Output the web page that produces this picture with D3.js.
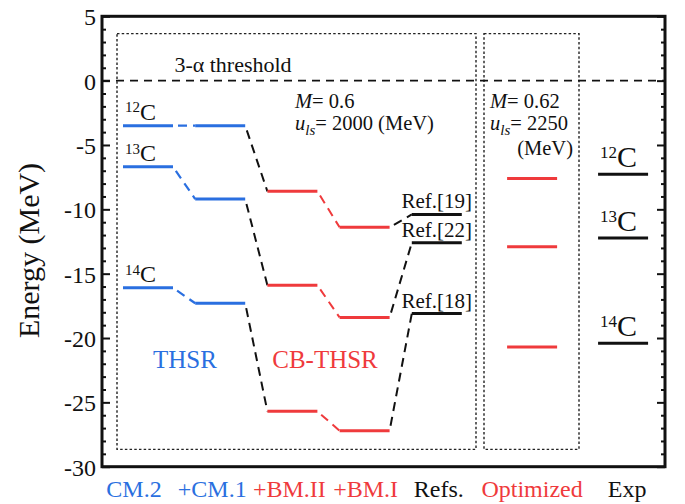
<!DOCTYPE html>
<html>
<head>
<meta charset="utf-8">
<script src="https://cdn.jsdelivr.net/npm/d3@7"></script>
<style>
  html, body { margin: 0; padding: 0; background: #fff; }
  svg { display: block; font-family: "Liberation Serif", "Times New Roman", serif; }
</style>
</head>
<body>
<svg id="chart" width="685" height="504"></svg>
<script>
// ---- data ----
const categories = ["CM.2", "+CM.1", "+BM.II", "+BM.I", "Refs.", "Optimized", "Exp"];
const isotopes = ["12", "13", "14"];           // mass numbers of 12C, 13C, 14C
const cm2 = [-3.5, -6.7, -16.1];
const cm1 = [-3.5, -9.2, -17.3];
const bm2 = [-8.6, -15.9, -25.7];
const bm1 = [-11.4, -18.4, -27.2];
const refs = [-10.4, -12.6, -18.1];
const refLabels = ["Ref.[19]", "Ref.[22]", "Ref.[18]"];
const optimized = [-7.6, -12.9, -20.7];
const exp = [-7.27, -12.22, -20.40];
const yTicks = [5, 0, -5, -10, -15, -20, -25, -30];

// ---- styles / layout ----
const BLUE = "#2a6fe0", RED = "#ef3a3c", INK = "#111";
const catColor = {"CM.2": BLUE, "+CM.1": BLUE, "+BM.II": RED, "+BM.I": RED, "Refs.": INK, "Optimized": RED, "Exp": INK};
const slot = d3.scaleOrdinal(categories, [0, 1, 2, 3, 4, 5.32, 6.58]);
const labelShift = {"CM.2": -14, "+CM.1": -8, "+BM.II": -3, "+BM.I": 1, "Refs.": 2, "Optimized": 0, "Exp": 4};
const halfW = 25;

const L = 102, R = 665, T = 16.3, B = 466.7;
const svg = d3.select("#chart");
const y = d3.scaleLinear().domain([-30, 5]).range([B, T]);
const x = d3.scaleLinear().domain([0, 1]).range([148, 220.2]);
const cx = c => x(slot(c));

// dotted group boxes
const boxes = [
  {x0: 117, x1: 476, y0: y(3.65), y1: y(-28.65)},
  {x0: 484, x1: 579, y0: y(3.65), y1: y(-28.65)}
];
svg.append("g").selectAll("rect").data(boxes).join("rect")
  .attr("x", d => d.x0).attr("y", d => d.y0)
  .attr("width", d => d.x1 - d.x0).attr("height", d => d.y1 - d.y0)
  .attr("fill", "none").attr("stroke", "#222").attr("stroke-width", 1.4)
  .attr("stroke-dasharray", "2.5,2.2");

// 3-alpha threshold
svg.append("line")
  .attr("x1", L).attr("x2", R).attr("y1", y(0)).attr("y2", y(0))
  .attr("stroke", INK).attr("stroke-width", 1.6).attr("stroke-dasharray", "8,6");
svg.append("text").attr("x", 233).attr("y", 72).attr("text-anchor", "middle")
  .attr("font-size", 22).attr("fill", INK).text("3-α threshold");

// connectors between successive calculations
const chain = [
  {from: "CM.2", to: "+CM.1", a: cm2, b: cm1, color: BLUE, w: 2.2},
  {from: "+CM.1", to: "+BM.II", a: cm1, b: bm2, color: INK, w: 2},
  {from: "+BM.II", to: "+BM.I", a: bm2, b: bm1, color: RED, w: 2},
  {from: "+BM.I", to: "Refs.", a: bm1, b: refs, color: INK, w: 2}
];
const conn = svg.append("g");
chain.forEach(c => {
  isotopes.forEach((iso, i) => {
    conn.append("line")
      .attr("x1", cx(c.from) + halfW).attr("y1", y(c.a[i]))
      .attr("x2", cx(c.to) - halfW).attr("y2", y(c.b[i]))
      .attr("stroke", c.color).attr("stroke-width", c.w)
      .attr("stroke-dasharray", "9,6").attr("stroke-dashoffset", -5);
  });
});

// energy levels
const levelSets = [
  {cat: "CM.2", v: cm2}, {cat: "+CM.1", v: cm1}, {cat: "+BM.II", v: bm2},
  {cat: "+BM.I", v: bm1}, {cat: "Refs.", v: refs}, {cat: "Optimized", v: optimized}, {cat: "Exp", v: exp}
];
const lv = svg.append("g");
levelSets.forEach(s => {
  lv.selectAll(null).data(s.v).join("line")
    .attr("x1", cx(s.cat) - halfW).attr("x2", cx(s.cat) + halfW)
    .attr("y1", d => y(d)).attr("y2", d => y(d))
    .attr("stroke", catColor[s.cat]).attr("stroke-width", 3);
});

// isotope labels
function isoLabel(g, xp, yp, mass, bigSize, supSize) {
  const t = g.append("text").attr("x", xp).attr("y", yp).attr("fill", INK);
  t.append("tspan").attr("font-size", supSize).attr("dy", -bigSize * 0.3).text(mass);
  t.append("tspan").attr("font-size", bigSize).attr("dy", bigSize * 0.3).text("C");
}
const lab = svg.append("g");
isotopes.forEach((m, i) => isoLabel(lab, 125, y(cm2[i]) - 6, m, 24, 15));
isotopes.forEach((m, i) => isoLabel(lab, 600, y(exp[i]) - 7, m, 30, 17));

// reference labels
svg.append("g").selectAll("text").data(refs).join("text")
  .attr("x", 472).attr("y", d => y(d) - 6).attr("text-anchor", "end")
  .attr("font-size", 21).attr("fill", INK).text((d, i) => refLabels[i]);

// parameter annotations
function params(xp, mVal, uVal, withUnit) {
  const g = svg.append("g").attr("font-size", 20.5).attr("fill", INK);
  const t1 = g.append("text").attr("x", xp).attr("y", 107.5);
  t1.append("tspan").attr("font-style", "italic").text("M");
  t1.append("tspan").text("= " + mVal);
  const t2 = g.append("text").attr("x", xp).attr("y", 130);
  t2.append("tspan").attr("font-style", "italic").text("u");
  t2.append("tspan").attr("font-style", "italic").attr("font-size", 15).attr("dy", 5).text("ls");
  t2.append("tspan").attr("dy", -5).text("= " + uVal + (withUnit ? " (MeV)" : ""));
  return g;
}
params(295, "0.6", "2000", true);
const g2 = params(490, "0.62", "2250", false);
g2.append("text").attr("x", 573).attr("y", 155).attr("text-anchor", "end").text("(MeV)");

// method labels
svg.append("text").attr("x", 185).attr("y", 368).attr("text-anchor", "middle")
  .attr("font-size", 25).attr("fill", BLUE).text("THSR");
svg.append("text").attr("x", 325).attr("y", 368).attr("text-anchor", "middle")
  .attr("font-size", 25).attr("fill", RED).text("CB-THSR");

// axes: frame, inward ticks
const minor = d3.range(-30, 6, 1).filter(v => v % 5 !== 0);
const leftAxis = d3.axisLeft(y).tickValues(yTicks).tickSize(-8).tickPadding(6).tickFormat(d3.format("d"));
const gl = svg.append("g").attr("transform", `translate(${L},0)`).call(leftAxis);
gl.select(".domain").remove();
gl.selectAll(".tick line").attr("stroke", INK).attr("stroke-width", 2);
gl.selectAll(".tick text").attr("font-size", 24).attr("font-family", "Liberation Serif").attr("fill", INK)
  .attr("dy", "0.35em").text(d => d < 0 ? "-" + Math.abs(d) : d);
const glm = svg.append("g").attr("transform", `translate(${L},0)`)
  .call(d3.axisLeft(y).tickValues(minor).tickSize(-4).tickFormat(""));
glm.select(".domain").remove();
glm.selectAll(".tick line").attr("stroke", INK).attr("stroke-width", 2);

const gr = svg.append("g").attr("transform", `translate(${R},0)`)
  .call(d3.axisRight(y).tickValues(yTicks).tickSize(-8).tickFormat(""));
gr.select(".domain").remove();
gr.selectAll(".tick line").attr("stroke", INK).attr("stroke-width", 2);
const grm = svg.append("g").attr("transform", `translate(${R},0)`)
  .call(d3.axisRight(y).tickValues(minor).tickSize(-4).tickFormat(""));
grm.select(".domain").remove();
grm.selectAll(".tick line").attr("stroke", INK).attr("stroke-width", 2);

svg.append("rect").attr("x", L).attr("y", T).attr("width", R - L).attr("height", B - T)
  .attr("fill", "none").attr("stroke", INK).attr("stroke-width", 3);

// category labels along the bottom
svg.append("g").selectAll("text").data(categories).join("text")
  .attr("x", d => cx(d) + labelShift[d]).attr("y", 497).attr("text-anchor", "middle")
  .attr("font-size", 24).attr("fill", d => catColor[d]).text(d => d);

// y-axis title
svg.append("text").attr("transform", `translate(39,${(T + B) / 2 + 9}) rotate(-90)`)
  .attr("text-anchor", "middle").attr("font-size", 30).attr("fill", INK).text("Energy (MeV)");
</script>
</body>
</html>
